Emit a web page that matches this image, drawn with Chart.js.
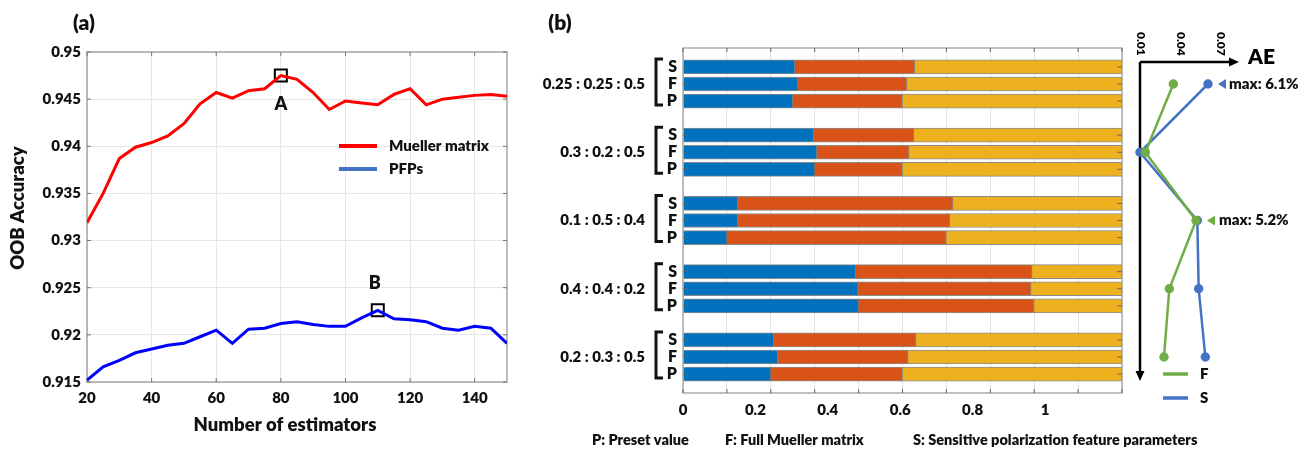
<!DOCTYPE html>
<html>
<head>
<meta charset="utf-8">
<script src="https://cdn.jsdelivr.net/npm/chart.js@4.4.0/dist/chart.umd.min.js"></script>
<style>
  html, body { margin: 0; padding: 0; background: #fff; }
  #wrap { position: relative; width: 1309px; height: 449px; overflow: hidden; }
  canvas { position: absolute; top: 0; }
</style>
</head>
<body>
<div id="wrap">
  <canvas id="accChart" width="530" height="449" style="left:0"></canvas>
  <canvas id="ratioChart" width="779" height="449" style="left:530px"></canvas>
  <canvas id="aeChart" width="184" height="449" style="left:1125px"></canvas>
</div>
<script>
// ---- panel (a): OOB accuracy vs number of estimators ----
const estimators = [20, 25, 30, 35, 40, 45, 50, 55, 60, 65, 70, 75, 80, 85, 90, 95, 100, 105, 110, 115, 120, 125, 130, 135, 140, 145, 150];
const muellerAcc = [0.9319, 0.9350, 0.9387, 0.9399, 0.9404, 0.9411, 0.9424, 0.9445, 0.9457, 0.9451, 0.9459, 0.9461, 0.9475, 0.9471,
                    0.9457, 0.9439, 0.9448, 0.9446, 0.9444, 0.9455, 0.9461, 0.9444, 0.9450, 0.9452, 0.9454, 0.9455, 0.9453];
const pfpAcc = [0.9152, 0.9166, 0.9173, 0.9181, 0.9185, 0.9189, 0.9191, 0.9198, 0.9205, 0.9191, 0.9206, 0.9207, 0.9212, 0.9214,
                0.9211, 0.9209, 0.9209, 0.9218, 0.9226, 0.9217, 0.9216, 0.9214, 0.9207, 0.9205, 0.9209, 0.9207, 0.9191];
const accXTicks = [20, 40, 60, 80, 100, 120, 140];
const accYTicks = [0.915, 0.92, 0.925, 0.93, 0.935, 0.94, 0.945, 0.95];
const bestEstimators = [80, 110];   // A on Mueller matrix, B on PFPs
const bestNames = ['A', 'B'];

// ---- panel (b): stacked ratio bars ----
const ratioLabels = ['0.25 : 0.25 : 0.5', '0.3 : 0.2 : 0.5', '0.1 : 0.5 : 0.4', '0.4 : 0.4 : 0.2', '0.2 : 0.3 : 0.5'];
const rowNames = ['S', 'F', 'P'];
const part1 = [0.255, 0.262, 0.25, 0.298, 0.305, 0.3, 0.125, 0.125, 0.1, 0.394, 0.399, 0.4, 0.207, 0.216, 0.2];
const part2 = [0.273, 0.248, 0.25, 0.228, 0.210, 0.2, 0.490, 0.483, 0.5, 0.401, 0.394, 0.4, 0.324, 0.297, 0.3];
const part3 = [0.472, 0.490, 0.5, 0.474, 0.485, 0.5, 0.385, 0.392, 0.4, 0.205, 0.207, 0.2, 0.469, 0.487, 0.5];
const ratioGridTicks = [0, 0.1, 0.2, 0.3, 0.4, 0.5, 0.6, 0.7, 0.8, 0.9, 1];
const ratioTickLabels = [0, 0.2, 0.4, 0.6, 0.8, 1];
const footnotes = ['P: Preset value', 'F: Full Mueller matrix', 'S: Sensitive polarization feature parameters'];

// ---- AE side panel ----
const aeF = [0.035, 0.014, 0.052, 0.032, 0.028];
const aeS = [0.061, 0.010, 0.053, 0.054, 0.059];
const aeTicks = [0.01, 0.04, 0.07];

const FONT = 'Lato, "Open Sans", sans-serif';
const WEIGHT = '800';
Chart.defaults.font.family = FONT;
Chart.defaults.font.weight = WEIGHT;
Chart.defaults.color = '#111';
Chart.defaults.animation = false;

function font(size) { return WEIGHT + ' ' + size + 'px ' + FONT; }

// bar rows: 3 bars per group, one empty row between groups
const rowIndex = [];
ratioLabels.forEach((_, g) => rowNames.forEach((_, r) => rowIndex.push(g * 4 + r)));
const rowMin = -1.11, rowMax = 19.11;

// ================= panel (a) =================
const accDecor = {
    id: 'accDecor',
    beforeDatasetsDraw(chart) {
        const { ctx, chartArea: a, scales: { x, y } } = chart;
        ctx.save();
        ctx.strokeStyle = '#9a9a9a';
        ctx.lineWidth = 1.3;
        ctx.strokeRect(a.left, a.top, a.right - a.left, a.bottom - a.top);
        ctx.strokeStyle = '#777';
        ctx.lineWidth = 1;
        ctx.beginPath();
        accXTicks.forEach(v => {
            const px = x.getPixelForValue(v);
            ctx.moveTo(px, a.bottom); ctx.lineTo(px, a.bottom - 4);
            ctx.moveTo(px, a.top); ctx.lineTo(px, a.top + 4);
        });
        accYTicks.forEach(v => {
            const py = y.getPixelForValue(v);
            ctx.moveTo(a.left, py); ctx.lineTo(a.left + 4, py);
            ctx.moveTo(a.right, py); ctx.lineTo(a.right - 4, py);
        });
        ctx.stroke();
        ctx.restore();
    },
    afterDraw(chart) {
        const { ctx } = chart;
        ctx.save();
        ctx.fillStyle = '#111';
        ctx.textAlign = 'center';
        ctx.textBaseline = 'middle';

        // A / B labels next to the square markers
        const marks = chart.getDatasetMeta(2).data;
        ctx.font = font(18);
        ctx.fillText(bestNames[0], marks[0].x, marks[0].y + 29);
        ctx.fillText(bestNames[1], marks[1].x - 3, marks[1].y - 27);

        // legend
        ctx.lineWidth = 4;
        ctx.strokeStyle = '#ff0000';
        ctx.beginPath(); ctx.moveTo(339, 146); ctx.lineTo(377, 146); ctx.stroke();
        ctx.strokeStyle = '#4472c4';
        ctx.beginPath(); ctx.moveTo(339, 169); ctx.lineTo(377, 169); ctx.stroke();
        ctx.textAlign = 'left';
        ctx.font = font(15);
        ctx.fillText('Mueller matrix', 389, 146);
        ctx.fillText('PFPs', 389, 169);

        // titles
        ctx.textAlign = 'center';
        ctx.font = font(21);
        ctx.fillText('(a)', 84, 23);
        ctx.font = font(18.5);
        ctx.fillText('Number of estimators', 285, 425);
        ctx.translate(18, 208);
        ctx.rotate(-Math.PI / 2);
        ctx.fillText('OOB Accuracy', 0, 0);
        ctx.restore();
    }
};

new Chart(document.getElementById('accChart'), {
    type: 'line',
    data: {
        datasets: [
            {
                label: 'Mueller matrix',
                data: estimators.map((n, i) => ({ x: n, y: muellerAcc[i] })),
                borderColor: '#ff0000',
                borderWidth: 3,
                pointRadius: 0
            },
            {
                label: 'PFPs',
                data: estimators.map((n, i) => ({ x: n, y: pfpAcc[i] })),
                borderColor: '#0000ff',
                borderWidth: 3,
                pointRadius: 0
            },
            {
                label: 'best',
                data: [
                    { x: bestEstimators[0], y: muellerAcc[estimators.indexOf(bestEstimators[0])] },
                    { x: bestEstimators[1], y: pfpAcc[estimators.indexOf(bestEstimators[1])] }
                ],
                showLine: false,
                pointStyle: 'rect',
                pointRadius: 8.5,
                pointBorderWidth: 2,
                pointBorderColor: '#000',
                pointBackgroundColor: 'rgba(0,0,0,0)'
            }
        ]
    },
    options: {
        responsive: false,
        devicePixelRatio: 1,
        layout: { padding: { top: 52, right: 23, left: 0, bottom: 0 } },
        plugins: { legend: { display: false }, tooltip: { enabled: false } },
        scales: {
            x: {
                type: 'linear',
                min: 20,
                max: 150,
                afterBuildTicks: s => { s.ticks = accXTicks.map(v => ({ value: v })); },
                afterFit: s => { s.height = 67; },
                grid: { color: '#e6e6e6', drawTicks: false },
                border: { display: false },
                ticks: { padding: 7, font: { size: 15 } }
            },
            y: {
                min: 0.915,
                max: 0.95,
                afterBuildTicks: s => { s.ticks = accYTicks.map(v => ({ value: v })); },
                afterFit: s => { s.width = 87; },
                grid: { color: '#e6e6e6', drawTicks: false },
                border: { display: false },
                ticks: { padding: 6, font: { size: 15 }, callback: v => String(Number(v.toFixed(3))) }
            }
        }
    },
    plugins: [accDecor]
});

// ================= panel (b) =================
const ratioDecor = {
    id: 'ratioDecor',
    afterDatasetsDraw(chart) {
        const { ctx, chartArea: a, scales: { x, y } } = chart;
        ctx.save();
        ctx.strokeStyle = '#a0a0a0';
        ctx.lineWidth = 1.3;
        ctx.strokeRect(a.left, a.top, a.right - a.left, a.bottom - a.top);
        ctx.strokeStyle = '#666';
        ctx.lineWidth = 1;
        ctx.beginPath();
        rowIndex.forEach(v => {
            const py = y.getPixelForValue(v);
            ctx.moveTo(a.left, py); ctx.lineTo(a.left + 5, py);
            ctx.moveTo(a.right, py); ctx.lineTo(a.right - 5, py);
        });
        ratioGridTicks.forEach(v => {
            const px = x.getPixelForValue(v);
            ctx.moveTo(px, a.top); ctx.lineTo(px, a.top + 4);
            ctx.moveTo(px, a.bottom); ctx.lineTo(px, a.bottom - 4);
        });
        ctx.stroke();
        ctx.restore();
    },
    afterDraw(chart) {
        const { ctx, scales: { y } } = chart;
        ctx.save();
        ctx.fillStyle = '#111';
        ctx.strokeStyle = '#111';
        ctx.textBaseline = 'middle';

        // group labels and brackets
        ratioLabels.forEach((lab, g) => {
            const top = y.getPixelForValue(g * 4) - 8;
            const bot = y.getPixelForValue(g * 4 + 2) + 4;
            const mid = y.getPixelForValue(g * 4 + 1);
            ctx.font = font(15);
            ctx.textAlign = 'right';
            ctx.fillText(lab, 115, mid);
            ctx.lineWidth = 3;
            ctx.beginPath();
            ctx.moveTo(133, top); ctx.lineTo(126, top); ctx.lineTo(126, bot); ctx.lineTo(133, bot);
            ctx.stroke();
        });

        ctx.textAlign = 'center';
        ctx.font = font(21);
        ctx.fillText('(b)', 30, 23);

        ctx.textAlign = 'left';
        ctx.font = font(14.5);
        ctx.fillText(footnotes[0], 62, 440);
        ctx.fillText(footnotes[1], 195, 440);
        ctx.fillText(footnotes[2], 383, 440);
        ctx.restore();
    }
};

const toRows = arr => arr.map((v, i) => ({ x: v, y: rowIndex[i] }));
const barCommon = { borderColor: 'rgba(0,0,0,0.45)', borderWidth: 1, barThickness: 14 };

new Chart(document.getElementById('ratioChart'), {
    type: 'bar',
    data: {
        datasets: [
            Object.assign({ label: 'part 1', data: toRows(part1), backgroundColor: '#0072bd' }, barCommon),
            Object.assign({ label: 'part 2', data: toRows(part2), backgroundColor: '#d95319' }, barCommon),
            Object.assign({ label: 'part 3', data: toRows(part3), backgroundColor: '#edb120' }, barCommon)
        ]
    },
    options: {
        indexAxis: 'y',
        responsive: false,
        devicePixelRatio: 1,
        layout: { padding: { top: 48, right: 187, left: 0, bottom: 0 } },
        plugins: { legend: { display: false }, tooltip: { enabled: false } },
        scales: {
            x: {
                type: 'linear',
                stacked: true,
                offset: false,
                min: 0,
                max: 1,
                weight: 0,
                afterBuildTicks: s => { s.ticks = ratioGridTicks.map(v => ({ value: v })); },
                afterFit: s => { s.height = 0; },
                grid: { color: '#e4e4e4', drawTicks: false, offset: false },
                border: { display: false },
                ticks: { display: false }
            },
            xl: {
                type: 'linear',
                position: 'bottom',
                offset: false,
                min: 0,
                max: 1.2127,
                weight: 1,
                afterBuildTicks: s => { s.ticks = ratioTickLabels.map(v => ({ value: v })); },
                afterFit: s => { s.height = 56; },
                grid: { display: false, drawTicks: false },
                border: { display: false },
                ticks: { padding: 8, font: { size: 15 }, callback: v => String(v) }
            },
            y: {
                type: 'linear',
                stacked: true,
                reverse: true,
                offset: false,
                min: rowMin,
                max: rowMax,
                afterBuildTicks: s => { s.ticks = rowIndex.map(v => ({ value: v })); },
                afterFit: s => { s.width = 153; },
                grid: { display: false, drawTicks: false, offset: false },
                border: { display: false },
                ticks: { padding: 6, font: { size: 16 }, callback: v => rowNames[v % 4] }
            }
        }
    },
    plugins: [ratioDecor]
});

// ================= AE panel =================
const aeDecor = {
    id: 'aeDecor',
    beforeDatasetsDraw(chart) {
        const { ctx, scales: { x } } = chart;
        const x0 = x.getPixelForValue(aeTicks[0]);
        const yAxis = 62;
        ctx.save();
        ctx.strokeStyle = '#000';
        ctx.fillStyle = '#000';
        ctx.lineWidth = 2.5;
        ctx.beginPath();
        ctx.moveTo(x0, yAxis); ctx.lineTo(x0, 373);
        ctx.moveTo(x0, yAxis); ctx.lineTo(106, yAxis);
        ctx.stroke();
        ctx.beginPath();
        ctx.moveTo(x0, 381); ctx.lineTo(x0 - 4.5, 371); ctx.lineTo(x0 + 4.5, 371); ctx.closePath();
        ctx.moveTo(114, yAxis); ctx.lineTo(104, yAxis - 4.5); ctx.lineTo(104, yAxis + 4.5); ctx.closePath();
        ctx.fill();

        // rotated tick labels above the axis
        ctx.font = font(12);
        ctx.textAlign = 'left';
        ctx.textBaseline = 'middle';
        aeTicks.forEach(v => {
            ctx.save();
            ctx.translate(x.getPixelForValue(v) + 1, 32);
            ctx.rotate(Math.PI / 2);
            ctx.fillText(String(v), 0, 0);
            ctx.restore();
        });
        ctx.font = font(21);
        ctx.fillText('AE', 123, 57);
        ctx.restore();
    },
    afterDraw(chart) {
        const { ctx, scales: { x, y } } = chart;
        ctx.save();
        ctx.textBaseline = 'middle';
        ctx.textAlign = 'left';
        ctx.font = font(15);

        const notes = [
            { vals: aeS, color: '#4472c4', gap: 10, text: 11 },
            { vals: aeF, color: '#70ad47', gap: 11, text: 12 }
        ];
        notes.forEach(n => {
            const m = Math.max(...n.vals);
            const g = n.vals.indexOf(m);
            const px = x.getPixelForValue(m) + n.gap;
            const py = y.getPixelForValue(g * 4 + 1);
            ctx.fillStyle = n.color;
            ctx.beginPath();
            ctx.moveTo(px, py); ctx.lineTo(px + 8, py - 5); ctx.lineTo(px + 8, py + 5); ctx.closePath();
            ctx.fill();
            ctx.fillStyle = '#111';
            ctx.fillText('max: ' + (m * 100).toFixed(1) + '%', px + n.text, py);
        });

        // legend
        ctx.lineWidth = 3.5;
        ctx.strokeStyle = '#70ad47';
        ctx.beginPath(); ctx.moveTo(38, 374); ctx.lineTo(63, 374); ctx.stroke();
        ctx.strokeStyle = '#4472c4';
        ctx.beginPath(); ctx.moveTo(38, 398); ctx.lineTo(63, 398); ctx.stroke();
        ctx.fillStyle = '#111';
        ctx.fillText('F', 75, 374);
        ctx.fillText('S', 75, 398);
        ctx.restore();
    }
};

new Chart(document.getElementById('aeChart'), {
    type: 'line',
    data: {
        datasets: [
            {
                label: 'F',
                data: aeF.map((v, g) => ({ x: v, y: g * 4 + 1 })),
                borderColor: '#70ad47',
                backgroundColor: '#70ad47',
                borderWidth: 2.5,
                pointRadius: 3.5,
                clip: false
            },
            {
                label: 'S',
                data: aeS.map((v, g) => ({ x: v, y: g * 4 + 1 })),
                borderColor: '#4472c4',
                backgroundColor: '#4472c4',
                borderWidth: 2.5,
                pointRadius: 3.5,
                clip: false
            }
        ]
    },
    options: {
        responsive: false,
        devicePixelRatio: 1,
        layout: { padding: { top: 48, right: 89, left: 15, bottom: 56 } },
        plugins: { legend: { display: false }, tooltip: { enabled: false } },
        scales: {
            x: { type: 'linear', min: 0.01, max: 0.07, display: false },
            y: { type: 'linear', min: rowMin, max: rowMax, reverse: true, display: false }
        }
    },
    plugins: [aeDecor]
});
</script>
</body>
</html>
